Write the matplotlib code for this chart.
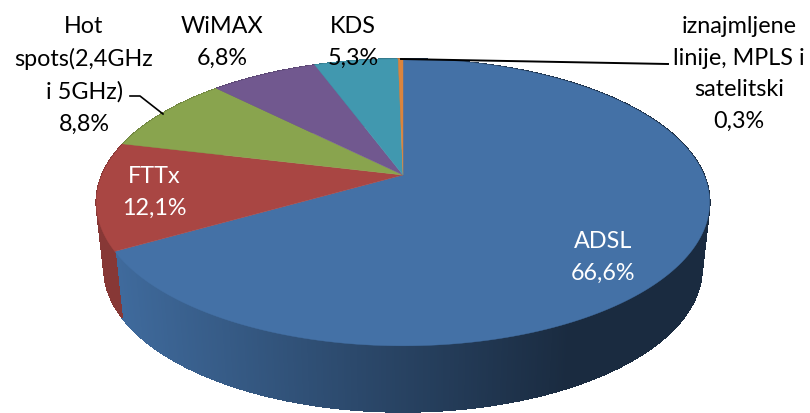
import numpy as np
import matplotlib
matplotlib.use("Agg")
import matplotlib.pyplot as plt
from matplotlib.collections import PolyCollection
from matplotlib.colors import to_rgb

categories = ["ADSL", "FTTx", "Hot\nspots(2,4GHz\ni 5GHz)", "WiMAX", "KDS",
              "iznajmljene\nlinije, MPLS i\nsatelitski"]
values = [66.6, 12.1, 8.8, 6.8, 5.3, 0.3]
colors = ["#4471A6", "#A94643", "#89A44E", "#71588F", "#4198AF", "#DB843D"]

plt.rcParams["font.family"] = ["Lato", "DejaVu Sans"]

# excel style tilted pie, circle goes through a perspective map
CX, CY = 403, 176
A, B, K = 138.2, 301, 0.191
DEPTH = 66
SHRINK = 0.975  # bottom rim is a bit narrower than the top one


def project(theta, r=1.0):
    u = r * np.sin(theta)
    v = r * np.cos(theta)
    w = 1 + K * v
    return CX + B * u / w, CY - A * v / w


def mix(c1, c2, t):
    c1, c2 = np.array(to_rgb(c1)), np.array(to_rgb(c2))
    return tuple(c1 + (c2 - c1) * t)


fig = plt.figure(figsize=(8.1, 4.14), dpi=100)
ax = fig.add_axes([0, 0, 1, 1])
ax.set_xlim(0, 810)
ax.set_ylim(414, 0)
ax.axis("off")

edges = np.cumsum([0] + values) / sum(values) * 2 * np.pi

# side wall
side_polys, side_cols = [], []
for i, col in enumerate(colors):
    n = max(2, int((edges[i + 1] - edges[i]) / 0.006))
    th = np.linspace(edges[i], edges[i + 1], n)
    x, y = project(th)
    xb = CX + (x - CX) * SHRINK
    for j in range(n - 1):
        side_polys.append([(x[j], y[j]), (x[j + 1], y[j + 1]),
                           (xb[j + 1], y[j + 1] + DEPTH), (xb[j], y[j] + DEPTH)])
        t = np.clip((x[j] - 117) / (570 - 117), 0, 1)
        if i == 0:
            side_cols.append(mix("#3F6A9C", "#1A2B40", t))
        else:
            side_cols.append(mix(col, "#000000", 0.2))
ax.add_collection(PolyCollection(side_polys, facecolors=side_cols, edgecolors=side_cols,
                                 linewidths=0.6, antialiaseds=False, zorder=1))

# top face
for i, col in enumerate(colors):
    th = np.linspace(edges[i], edges[i + 1], 200)
    x, y = project(th)
    ax.fill(np.r_[CX, x], np.r_[CY, y], color=col, lw=0.3, zorder=2)

# leader lines
ax.plot([130, 140, 163], [97, 97, 115], color="black", lw=1.2, zorder=3)
ax.plot([401, 668], [60, 65], color="black", lw=1.4, zorder=3)

label_pos = [(603, 257), (154, 192), (84, 75), (222, 42), (353, 42), (739, 74)]
label_col = ["white", "white", "black", "black", "black", "black"]
for cat, val, (lx, ly), c in zip(categories, values, label_pos, label_col):
    txt = cat + "\n" + f"{val:.1f}".replace(".", ",") + "%"
    ax.text(lx, ly, txt, ha="center", va="center", color=c, fontsize=16.8,
            linespacing=1.63, zorder=4)

fig.savefig("out.png", dpi=100)
